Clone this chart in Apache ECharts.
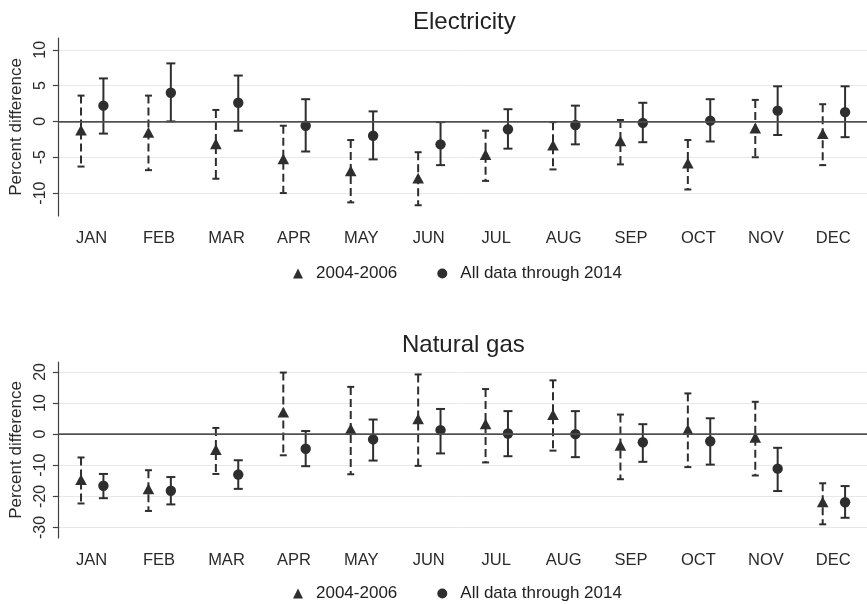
<!DOCTYPE html>
<html>
<head>
<meta charset="utf-8">
<script src="https://cdn.jsdelivr.net/npm/echarts@6/dist/echarts.min.js"></script>
<style>
  html, body { margin: 0; padding: 0; background: #fff; }
  #chart { width: 867px; height: 604px; }
</style>
</head>
<body>
<div id="chart"></div>
<script>
  // categories and tick labels
  const months = ['JAN', 'FEB', 'MAR', 'APR', 'MAY', 'JUN', 'JUL', 'AUG', 'SEP', 'OCT', 'NOV', 'DEC'];
  const elecTicks = [-10, -5, 0, 5, 10];
  const gasTicks = [-30, -20, -10, 0, 10, 20];

  // [estimate, lower, upper] per month
  const elecEarly = [
    [-1.3, -6.3, 3.6], [-1.6, -6.8, 3.6], [-3.2, -8.0, 1.6], [-5.3, -10.0, -0.6],
    [-7.0, -11.3, -2.6], [-8.0, -11.7, -4.3], [-4.7, -8.3, -1.3], [-3.4, -6.7, -0.1],
    [-2.8, -6.0, 0.2], [-5.9, -9.5, -2.6], [-1.0, -5.0, 3.0], [-1.8, -6.1, 2.4]
  ];
  const elecAll = [
    [2.2, -1.7, 6.0], [4.0, 0.0, 8.1], [2.6, -1.3, 6.4], [-0.6, -4.2, 3.1],
    [-2.0, -5.3, 1.4], [-3.2, -6.1, -0.1], [-1.1, -3.8, 1.7], [-0.5, -3.2, 2.2],
    [-0.2, -2.9, 2.6], [0.1, -2.8, 3.1], [1.5, -1.9, 4.9], [1.3, -2.2, 4.9]
  ];
  const gasEarly = [
    [-14.8, -22.3, -7.5], [-17.8, -24.7, -11.6], [-5.2, -12.8, 2.0], [6.9, -6.8, 19.8],
    [1.5, -12.9, 15.2], [4.7, -10.2, 19.2], [3.1, -9.1, 14.5], [6.1, -5.3, 17.3],
    [-3.8, -14.5, 6.3], [1.3, -10.6, 13.1], [-1.2, -13.3, 10.4], [-22.0, -29.0, -15.8]
  ];
  const gasAll = [
    [-16.6, -20.6, -12.8], [-18.2, -22.6, -13.8], [-13.0, -17.6, -8.4], [-4.7, -10.3, 1.0],
    [-1.7, -8.5, 4.7], [1.3, -6.2, 8.1], [0.2, -7.1, 7.4], [0.0, -7.4, 7.4],
    [-2.6, -8.9, 3.2], [-2.3, -9.8, 5.1], [-11.1, -18.3, -4.4], [-21.9, -26.9, -16.7]
  ];

  const FONT = '"Liberation Sans", Arial, sans-serif';
  const INK = '#2e2e2e';
  const AXIS = '#404040';

  // error bar + marker, shifted inside the month band
  const errorBar = (offset, dashed, marker) => (params, api) => {
    const i = api.value(0);
    const band = api.size([1, 0])[0];
    const x = api.coord([i, 0])[0] + band * offset;
    const yMid = api.coord([i, api.value(1)])[1];
    const yLo = api.coord([i, api.value(2)])[1];
    const yHi = api.coord([i, api.value(3)])[1];
    const cap = dashed ? 7 : 9;
    const capStyle = { stroke: INK, lineWidth: 2 };
    const kids = [
      { type: 'line', shape: { x1: x, y1: yHi, x2: x, y2: yLo },
        style: { stroke: INK, lineWidth: 2, lineDash: dashed ? [8, 4] : null } },
      { type: 'line', shape: { x1: x - cap / 2, y1: yHi, x2: x + cap / 2, y2: yHi }, style: capStyle },
      { type: 'line', shape: { x1: x - cap / 2, y1: yLo, x2: x + cap / 2, y2: yLo }, style: capStyle }
    ];
    if (marker === 'triangle') {
      kids.push({ type: 'polygon', shape: { points: [[x, yMid - 6], [x + 5.8, yMid + 4.8], [x - 5.8, yMid + 4.8]] },
        style: { fill: INK } });
    } else {
      kids.push({ type: 'circle', shape: { cx: x, cy: yMid, r: 5.2 }, style: { fill: INK } });
    }
    return { type: 'group', children: kids };
  };

  const toData = (arr) => arr.map((d, i) => [i, d[0], d[1], d[2]]);

  const xAxisFor = (gridIndex) => ({
    type: 'category',
    gridIndex,
    data: months,
    boundaryGap: true,
    axisLine: { lineStyle: { color: AXIS, width: 1.2 } },
    axisTick: { alignWithLabel: true, length: 5, lineStyle: { color: AXIS, width: 1.2 } },
    axisLabel: { color: '#2a2a2a', fontSize: 16.5, fontFamily: FONT, margin: 14 },
    splitLine: { show: false }
  });

  const yAxisFor = (gridIndex, min, max, ticks) => ({
    type: 'value',
    gridIndex,
    min, max,
    name: 'Percent difference',
    nameLocation: 'middle',
    nameRotate: 90,
    nameGap: 30,
    nameTextStyle: { color: '#2a2a2a', fontSize: 17, fontFamily: FONT },
    axisLine: { show: true, lineStyle: { color: AXIS, width: 1.2 } },
    axisTick: { show: true, length: 5, customValues: ticks, lineStyle: { color: AXIS, width: 1.2 } },
    axisLabel: { rotate: 90, customValues: ticks, color: '#2a2a2a', fontSize: 16, fontFamily: FONT, margin: 9 },
    splitLine: { show: true, lineStyle: { color: '#e8e8e8', width: 1 } }
  });

  const zeroLine = (idx) => ({
    type: 'line',
    xAxisIndex: idx, yAxisIndex: idx,
    data: [],
    silent: true,
    z: 1,
    markLine: {
      silent: true,
      symbol: 'none',
      label: { show: false },
      lineStyle: { color: '#555', width: 1.5, type: 'solid' },
      data: [{ yAxis: 0 }]
    }
  });

  const barSeries = (idx, name, arr, offset, dashed, marker) => ({
    type: 'custom',
    name,
    xAxisIndex: idx, yAxisIndex: idx,
    z: 3,
    itemStyle: { color: INK },
    encode: { x: 0, y: [1, 2, 3] },
    renderItem: errorBar(offset, dashed, marker),
    data: toData(arr)
  });

  const legendFor = (top) => ({
    top,
    left: 288,
    itemWidth: 10,
    itemHeight: 10,
    itemGap: 40,
    textStyle: { color: '#222', fontSize: 17, fontFamily: FONT, padding: [0, 0, 0, 8] },
    data: [
      { name: '2004-2006', icon: 'triangle' },
      { name: 'All data through 2014', icon: 'circle' }
    ]
  });

  const chart = echarts.init(document.getElementById('chart'));
  chart.setOption({
    backgroundColor: '#fff',
    animation: false,
    title: [
      { text: 'Electricity', left: 408, top: 5, textStyle: { color: '#222', fontSize: 24, fontWeight: 'normal', fontFamily: FONT } },
      { text: 'Natural gas', left: 397, top: 328, textStyle: { color: '#222', fontSize: 24, fontWeight: 'normal', fontFamily: FONT } }
    ],
    legend: [legendFor(260), legendFor(580)],
    grid: [
      { left: 57, right: 0, top: 38, height: 178 },
      { left: 57, right: 0, top: 362, height: 176 }
    ],
    xAxis: [xAxisFor(0), xAxisFor(1)],
    yAxis: [yAxisFor(0, -13.2, 11.64, elecTicks), yAxisFor(1, -33.4, 23.2, gasTicks)],
    series: [
      zeroLine(0),
      zeroLine(1),
      barSeries(0, '2004-2006', elecEarly, -0.157, true, 'triangle'),
      barSeries(0, 'All data through 2014', elecAll, 0.175, false, 'circle'),
      barSeries(1, '2004-2006', gasEarly, -0.157, true, 'triangle'),
      barSeries(1, 'All data through 2014', gasAll, 0.175, false, 'circle')
    ]
  });
</script>
</body>
</html>
